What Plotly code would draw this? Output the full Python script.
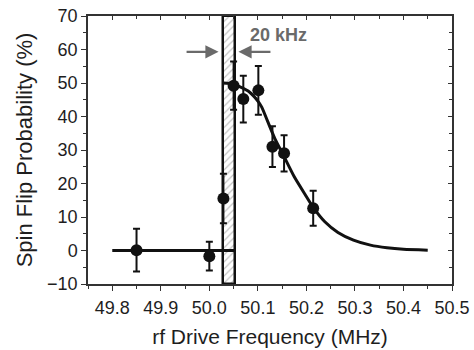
import plotly.graph_objects as go

# measured data points
freq = [49.85, 50.0, 50.029, 50.05, 50.07, 50.101, 50.13, 50.154, 50.214]
prob = [0.1, -1.7, 15.5, 49.2, 45.2, 47.8, 31.0, 29.0, 12.6]
prob_err = [6.4, 4.3, 7.4, 7.2, 7.0, 7.3, 6.1, 5.4, 5.2]

# fitted curve
fit_x = [50.03, 50.045, 50.06, 50.08, 50.09, 50.1, 50.108, 50.12, 50.135, 50.152,
         50.175, 50.197, 50.214, 50.238, 50.265, 50.297, 50.332, 50.366, 50.40, 50.45]
fit_y = [50.0, 49.8, 49.1, 47.6, 46.3, 44.6, 42.8, 38.6, 33.4, 28.6,
         22.0, 16.8, 12.9, 8.6, 5.4, 3.1, 1.6, 0.8, 0.35, 0.1]
base_x = [49.8, 50.053]
base_y = [0, 0]

# hatched 20 kHz window
win_lo, win_hi = 50.029, 50.053
y_lo, y_hi = -10, 70

x_ticks = [49.8, 49.9, 50.0, 50.1, 50.2, 50.3, 50.4, 50.5]
x_ticktext = ["49.8", "49.9", "50.0", "50.1", "50.2", "50.3", "50.4", "50.5"]
y_ticks = [-10, 0, 10, 20, 30, 40, 50, 60, 70]

txt = "#1e1e1e"
axc = "#333333"
grey = "#6a6a6a"

fig = go.Figure()

fig.add_trace(go.Bar(
    x=[(win_lo + win_hi) / 2], y=[y_hi - y_lo], base=[y_lo], width=[win_hi - win_lo],
    marker=dict(color="white", line=dict(color="#111111", width=2.5),
                pattern=dict(shape="/", fgcolor="#8a8a8a", bgcolor="white", size=5, solidity=0.25)),
    showlegend=False, hoverinfo="skip"))

fig.add_trace(go.Scatter(x=base_x, y=base_y, mode="lines",
                         line=dict(color="#111111", width=3), showlegend=False))
fig.add_trace(go.Scatter(x=fit_x, y=fit_y, mode="lines",
                         line=dict(color="#111111", width=3, shape="spline", smoothing=0.6),
                         showlegend=False))

fig.add_trace(go.Scatter(
    x=freq, y=prob, mode="markers",
    marker=dict(color="#111111", size=12),
    error_y=dict(type="data", array=prob_err, color="#111111", thickness=2, width=3.5),
    showlegend=False))

# invisible trace for mirrored axes
fig.add_trace(go.Scatter(x=[50.0], y=[0], xaxis="x2", yaxis="y2", mode="markers",
                         marker=dict(opacity=0), showlegend=False, hoverinfo="skip"))

# arrows and label
fig.add_annotation(x=50.019, y=59.3, ax=49.950, ay=59.3, xref="x", yref="y", axref="x", ayref="y",
                   showarrow=True, arrowhead=2, arrowsize=1.1, arrowwidth=2.4, arrowcolor=grey, text="")
fig.add_annotation(x=50.060, y=59.3, ax=50.129, ay=59.3, xref="x", yref="y", axref="x", ayref="y",
                   showarrow=True, arrowhead=2, arrowsize=1.1, arrowwidth=2.4, arrowcolor=grey, text="")
fig.add_annotation(x=50.080, y=64.2, xref="x", yref="y", xanchor="left", yanchor="middle",
                   showarrow=False, text="<b>20 kHz</b>",
                   font=dict(family="Arial", size=18, color=grey))

xr = [49.75, 50.5]
yr = [y_lo, y_hi]

fig.update_layout(
    width=474, height=350,
    margin=dict(l=88, r=22, t=16, b=66, autoexpand=False),
    paper_bgcolor="white", plot_bgcolor="white",
    font=dict(family="Arial", size=18, color=txt),
    bargap=0,
    xaxis=dict(range=xr, tickvals=x_ticks, ticktext=x_ticktext, ticks="outside", ticklen=5,
               tickwidth=1.3, tickcolor=axc, showline=True, linecolor=axc, linewidth=1.5,
               showgrid=False, zeroline=False, automargin=False, ticklabeloverflow="allow",
               ticklabelstandoff=2,
               minor=dict(ticks="outside", dtick=0.05, tick0=49.75, ticklen=3, tickcolor=axc, tickwidth=1.3),
               title=dict(text="rf Drive Frequency (MHz)", font=dict(size=21), standoff=12)),
    yaxis=dict(range=yr, tickvals=y_ticks, ticks="outside", ticklen=5, tickwidth=1.3,
               tickcolor=axc, showline=True, linecolor=axc, linewidth=1.5,
               showgrid=False, zeroline=False, automargin=False, ticklabeloverflow="allow",
               minor=dict(ticks="outside", dtick=5, tick0=-10, ticklen=3, tickcolor=axc, tickwidth=1.3),
               title=dict(text="Spin Flip Probability (%)", font=dict(size=22), standoff=8)),
    xaxis2=dict(range=xr, overlaying="x", side="top", anchor="y2", tickvals=x_ticks,
                showticklabels=False, ticks="inside", ticklen=4, tickwidth=1.3, tickcolor=axc,
                showline=True, linecolor=axc, linewidth=1.5, showgrid=False, zeroline=False,
                automargin=False,
                minor=dict(ticks="inside", dtick=0.05, tick0=49.75, ticklen=3, tickcolor=axc, tickwidth=1.3)),
    yaxis2=dict(range=yr, overlaying="y", side="right", anchor="x2", tickvals=y_ticks,
                showticklabels=False, ticks="inside", ticklen=4, tickwidth=1.3, tickcolor=axc,
                showline=True, linecolor=axc, linewidth=1.5, showgrid=False, zeroline=False,
                automargin=False,
                minor=dict(ticks="inside", dtick=5, tick0=-10, ticklen=3, tickcolor=axc, tickwidth=1.3)),
)

fig.write_html("out.html", config={"displayModeBar": False},
               post_script="document.body.style.margin='0px';")
